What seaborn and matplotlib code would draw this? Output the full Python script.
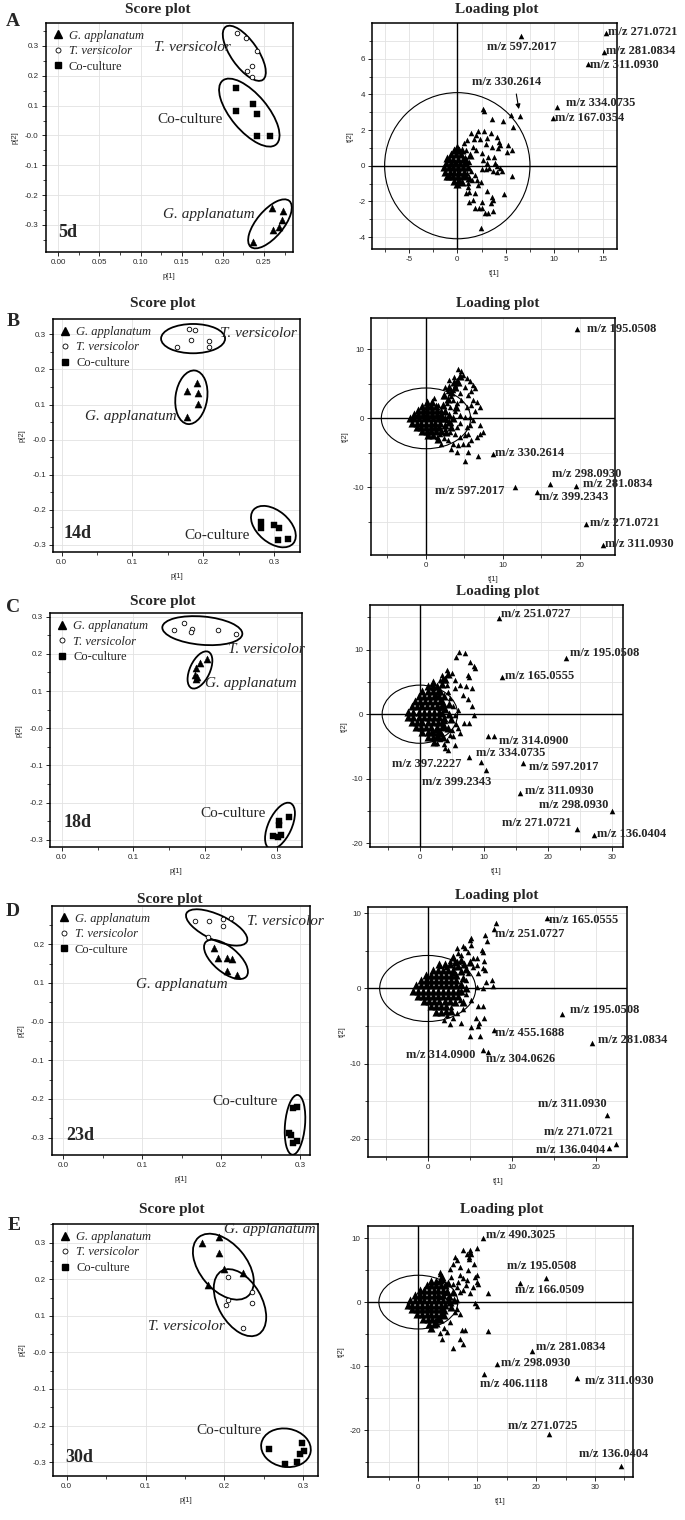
import matplotlib
matplotlib.use("Agg")
import matplotlib.pyplot as plt
import matplotlib.transforms as mtransforms
from matplotlib.patches import Ellipse
from matplotlib.ticker import MultipleLocator, FuncFormatter, AutoMinorLocator
from matplotlib.lines import Line2D
import pandas as pd
import seaborn as sns

# ---------------------------------------------------------------- data
GROUPS = ["G. applanatum", "T. versicolor", "Co-culture"]
DAYS = ["5d", "14d", "18d", "23d", "30d"]
PANEL_LETTERS = ["A", "B", "C", "D", "E"]

# Score plots: p[1], p[2] per group
A_GA_P1 = [0.2593, 0.2727, 0.2715, 0.2678, 0.2605, 0.2370]
A_GA_P2 = [-0.244, -0.255, -0.283, -0.306, -0.317, -0.356]
A_TV_P1 = [0.2176, 0.2277, 0.2419, 0.2358, 0.2293, 0.2358]
A_TV_P2 = [0.3425, 0.3279, 0.2832, 0.2318, 0.2173, 0.1950]
A_CO_P1 = [0.2156, 0.2160, 0.2370, 0.2419, 0.2419, 0.2573]
A_CO_P2 = [0.158, 0.082, 0.1045, 0.072, -0.0006, -0.003]

B_GA_P1 = [0.1917, 0.1771, 0.1926, 0.1926, 0.1771]
B_GA_P2 = [0.1623, 0.1396, 0.1339, 0.1006, 0.0655]
B_TV_P1 = [0.1625, 0.1799, 0.1889, 0.1827, 0.2086, 0.2082]
B_TV_P2 = [0.2649, 0.3152, 0.3114, 0.2839, 0.2820, 0.2630]
B_CO_P1 = [0.2812, 0.2812, 0.2995, 0.3075, 0.3052, 0.3198]
B_CO_P2 = [-0.2336, -0.2525, -0.2430, -0.2516, -0.2858, -0.2839]

C_GA_P1 = [0.2033, 0.1930, 0.1874, 0.1860, 0.1874, 0.1893]
C_GA_P2 = [0.1863, 0.1746, 0.1630, 0.1433, 0.1316, 0.1388]
C_TV_P1 = [0.1567, 0.1707, 0.1819, 0.1809, 0.2177, 0.2433]
C_TV_P2 = [0.2651, 0.2821, 0.2660, 0.2579, 0.2651, 0.2534]
C_CO_P1 = [0.3033, 0.3037, 0.3167, 0.2953, 0.3060, 0.3014]
C_CO_P2 = [-0.2490, -0.2588, -0.2391, -0.2893, -0.2866, -0.2910]

D_GA_P1 = [0.1914, 0.1956, 0.2070, 0.2134, 0.2070, 0.2197]
D_GA_P2 = [0.1913, 0.1652, 0.1652, 0.1609, 0.1304, 0.1217]
D_TV_P1 = [0.1669, 0.1851, 0.2028, 0.2125, 0.2020, 0.1830]
D_TV_P2 = [0.2609, 0.2591, 0.2652, 0.2678, 0.2461, 0.2183]
D_CO_P1 = [0.2915, 0.2966, 0.2856, 0.2886, 0.2907, 0.2958]
D_CO_P2 = [-0.2235, -0.2209, -0.2887, -0.2939, -0.3148, -0.3078]

E_GA_P1 = [0.1720, 0.1935, 0.1935, 0.1994, 0.2240, 0.1796]
E_GA_P2 = [0.3000, 0.3164, 0.2726, 0.2280, 0.2161, 0.1842]
E_TV_P1 = [0.2041, 0.2041, 0.2015, 0.2353, 0.2349, 0.2231]
E_TV_P2 = [0.2070, 0.1432, 0.1295, 0.1660, 0.1340, 0.0675]
E_CO_P1 = [0.2565, 0.2763, 0.2915, 0.2979, 0.2958, 0.3008]
E_CO_P2 = [-0.2644, -0.3064, -0.2991, -0.2489, -0.2781, -0.2690]

# Loading plots: dense core around origin, spread of variables, labelled variables
A_CORE = [(-0.3, 0.9), (0.2, 0.9), (-0.6, 0.65), (-0.1, 0.65), (0.4, 0.65),
          (-0.9, 0.4), (-0.4, 0.4), (0.1, 0.4), (0.6, 0.4),
          (-1.2, 0.15), (-0.7, 0.15), (-0.2, 0.15), (0.3, 0.15), (0.8, 0.15),
          (-1.4, -0.1), (-0.9, -0.1), (-0.4, -0.1), (0.1, -0.1), (0.6, -0.1),
          (-1.3, -0.35), (-0.8, -0.35), (-0.3, -0.35), (0.2, -0.35), (0.7, -0.35),
          (-0.9, -0.6), (-0.4, -0.6), (0.1, -0.6), (0.6, -0.6), (-0.3, -0.85), (0.2, -0.85),
          (0.9, 0.3), (1.1, -0.1), (0.8, -0.5), (0.5, 0.9), (0.5, -0.9), (1.3, 0.6),
          (1.2, -0.7), (-1.1, -0.55), (-1.1, 0.45), (0.0, 1.05), (0.0, -1.0)]
A_FAN = [(2.61, 3.16), (2.75, 3.09), (3.58, 2.60), (5.50, 2.85), (4.68, 2.51), (5.78, 2.19),
         (3.44, 1.85), (2.75, 1.97), (2.17, 1.97), (1.93, 1.72), (1.72, 1.48), (2.34, 1.48),
         (3.03, 1.57), (4.06, 1.63), (4.33, 1.35), (4.40, 1.16), (5.26, 1.16), (5.68, 0.88),
         (5.09, 0.79), (4.23, 0.97), (3.54, 1.07), (2.96, 1.22), (1.65, 1.07), (1.93, 0.88),
         (0.69, 1.25), (0.96, 1.44), (1.38, 1.85), (2.51, 0.73), (3.20, 0.51), (3.78, 0.51),
         (2.68, 0.32), (3.03, 0.17), (3.89, 0.17), (4.06, -0.02), (4.40, -0.15), (5.61, -0.56),
         (4.58, -0.28), (4.06, -0.34), (3.72, -0.28), (3.30, -0.15), (2.92, -0.21), (2.51, -0.21),
         (1.82, -0.52), (1.48, -0.81), (2.00, -0.81), (2.41, -0.90), (2.17, -1.09), (1.10, -1.18),
         (1.24, -1.46), (1.82, -1.52), (3.03, -1.40), (3.54, -1.74), (3.65, -1.93), (4.82, -1.61),
         (3.44, -2.12), (2.51, -2.02), (1.65, -1.93), (1.24, -2.02), (1.82, -2.40), (2.27, -2.40),
         (2.58, -2.40), (2.89, -2.68), (3.20, -2.64), (3.65, -2.53), (2.44, -3.52), (1.14, -0.96),
         (0.89, -1.55), (0.80, 0.50), (1.00, -0.40), (0.90, 0.90), (1.20, 0.20), (1.40, -0.30)]
A_MZ = ["271.0721", "281.0834", "311.0930", "597.2017", "334.0735", "167.0354", "330.2614"]
A_MZ_T1 = [15.31, 15.14, 13.52, 6.57, 10.32, 9.91, 6.47]
A_MZ_T2 = [7.43, 6.40, 5.71, 7.28, 3.28, 2.68, 2.79]

B_CORE = [(0.2, 2.4), (0.8, 2.4),
          (-0.5, 1.8), (0.1, 1.8), (0.7, 1.8), (1.3, 1.8),
          (-1.0, 1.2), (-0.4, 1.2), (0.2, 1.2), (0.8, 1.2), (1.4, 1.2),
          (-1.6, 0.6), (-1.0, 0.6), (-0.4, 0.6), (0.2, 0.6), (0.8, 0.6), (1.4, 0.6), (1.9, 0.6),
          (-2.1, 0.0), (-1.5, 0.0), (-0.9, 0.0), (-0.3, 0.0), (0.3, 0.0), (0.9, 0.0), (1.5, 0.0), (2.0, 0.0),
          (-1.8, -0.6), (-1.2, -0.6), (-0.6, -0.6), (0.0, -0.6), (0.6, -0.6), (1.2, -0.6), (1.8, -0.6),
          (-1.2, -1.2), (-0.6, -1.2), (0.0, -1.2), (0.6, -1.2), (1.2, -1.2), (1.7, -1.2),
          (-0.5, -1.8), (0.1, -1.8), (0.7, -1.8), (1.3, -1.8), (0.3, -2.4), (0.9, -2.4),
          (2.5, 1.0), (2.5, 0.0), (2.5, -1.0), (3.0, 0.5), (3.0, -0.5), (3.5, 0.0), (2.2, 2.0),
          (2.8, 2.8), (3.2, 3.8), (3.8, 4.5), (4.2, 5.2), (3.0, 4.5), (2.6, -2.0), (3.2, -1.3),
          (2.0, -1.8), (1.6, -3.0), (2.4, 3.4), (3.6, 5.2), (4.4, 6.2), (3.9, 1.6)]
B_FAN = [(4.2, 7.1), (4.6, 6.8), (4.8, 6.3), (5.3, 5.9), (5.7, 5.4), (6.1, 4.9), (6.4, 4.4), (5.9, 3.9),
         (4.0, 5.6), (3.8, 4.9), (3.5, 4.1), (2.9, 3.9), (2.3, 3.2), (3.3, 3.2), (4.4, 3.7), (5.1, 4.6),
         (5.5, 3.4), (6.1, 2.7), (6.6, 2.4), (5.9, 2.0), (5.3, 1.7), (4.6, 2.7), (4.0, 2.2), (3.5, 2.7),
         (3.1, 1.7), (3.8, 1.0), (4.4, 0.5), (5.1, 0.2), (5.7, 0.2), (6.1, -0.2), (5.7, -1.0), (5.3, -1.2),
         (4.4, -0.7), (4.0, -1.2), (3.3, -0.7), (2.7, -0.2), (2.5, -1.5), (3.1, -2.0), (3.8, -2.2),
         (4.4, -2.7), (5.1, -2.4), (5.5, -2.2), (5.9, -3.2), (5.5, -3.7), (4.8, -3.7), (4.2, -3.9),
         (3.5, -3.7), (2.9, -3.2), (2.3, -2.9), (1.8, -2.2), (1.4, -2.7), (2.0, -3.7), (3.3, -4.4),
         (4.0, -4.9), (5.5, -4.9), (6.8, -5.4), (5.1, -6.2), (7.4, -2.0), (7.0, -2.2), (6.6, -2.7),
         (7.0, -1.0), (6.4, 1.0), (7.0, 1.7), (2.7, 2.2), (2.0, 1.2), (1.5, 2.0), (1.0, 3.0),
         (2.5, 4.5), (3.0, 5.5), (3.6, 6.0)]
B_MZ = ["195.0508", "330.2614", "298.0930", "281.0834", "597.2017", "399.2343", "271.0721", "311.0930"]
B_MZ_T1 = [19.57, 8.74, 16.10, 19.48, 11.52, 14.37, 20.74, 23.03]
B_MZ_T2 = [13.02, -5.12, -9.51, -9.76, -9.90, -10.73, -15.27, -18.29]

C_CORE = [(1.2, 4.4), (2.0, 4.4),
          (0.4, 3.6), (1.2, 3.6), (2.0, 3.6), (2.8, 3.6),
          (-0.2, 2.8), (0.6, 2.8), (1.4, 2.8), (2.2, 2.8), (3.0, 2.8),
          (-0.8, 2.0), (0.0, 2.0), (0.8, 2.0), (1.6, 2.0), (2.4, 2.0), (3.2, 2.0),
          (-1.3, 1.2), (-0.5, 1.2), (0.3, 1.2), (1.1, 1.2), (1.9, 1.2), (2.7, 1.2), (3.4, 1.2),
          (-1.8, 0.4), (-1.0, 0.4), (-0.2, 0.4), (0.6, 0.4), (1.4, 0.4), (2.2, 0.4), (3.0, 0.4),
          (-1.8, -0.4), (-1.0, -0.4), (-0.2, -0.4), (0.6, -0.4), (1.4, -0.4), (2.2, -0.4), (3.0, -0.4),
          (-1.2, -1.2), (-0.4, -1.2), (0.4, -1.2), (1.2, -1.2), (2.0, -1.2), (2.8, -1.2), (3.5, -1.2),
          (-0.6, -2.0), (0.2, -2.0), (1.0, -2.0), (1.8, -2.0), (2.6, -2.0), (3.4, -2.0),
          (0.4, -2.8), (1.2, -2.8), (2.0, -2.8), (2.8, -2.8), (1.2, -3.6), (2.0, -3.6), (2.8, -3.6),
          (2.2, -4.3),
          (3.5, 0.2), (3.8, -0.6), (4.0, 0.8), (3.6, 1.8), (3.8, 2.8), (3.2, 3.6), (2.6, 4.4),
          (3.4, 4.6), (4.0, 5.5), (4.4, 6.2), (3.6, 5.4), (3.8, -1.8), (3.2, -2.8), (3.6, -3.6),
          (2.6, -3.4), (4.4, -2.2), (4.5, 0.0), (4.6, 1.6), (2.0, 5.0), (4.8, -0.8)]
C_FAN = [(6.1, 9.7), (7.0, 9.4), (5.7, 8.8), (7.8, 8.1), (8.4, 7.4), (8.6, 7.1), (7.5, 6.1), (7.7, 5.7),
         (7.2, 4.4), (8.1, 4.0), (6.8, 3.0), (7.5, 2.3), (8.1, 1.3), (8.4, -0.1), (7.6, -1.4), (6.9, -1.4),
         (5.7, -1.5), (5.5, -0.1), (6.0, 0.7), (5.2, 1.2), (4.7, 2.5), (4.4, 3.5), (4.2, 4.5), (5.5, 4.0),
         (6.3, 4.5), (5.5, 5.3), (5.0, 6.3), (4.2, 6.8), (3.4, 6.1), (3.1, 5.3), (5.2, -3.4), (4.7, -3.2),
         (5.5, -4.7), (4.3, -4.0), (3.7, -4.6), (3.1, -3.9), (2.7, -4.4), (3.9, -5.2), (4.4, -5.5),
         (6.3, -2.9), (6.0, -2.2), (5.0, -2.4), (2.5, 3.0), (3.5, 2.0), (2.0, 4.0), (3.0, 1.0),
         (4.0, -1.0), (2.5, -2.5), (3.5, -3.0), (1.8, -2.8), (10.7, -3.44)]
C_MZ = ["251.0727", "195.0508", "165.0555", "314.0900", "334.0735", "397.2227",
        "399.2343", "597.2017", "311.0930", "298.0930", "271.0721", "136.0404"]
C_MZ_T1 = [12.31, 22.80, 12.83, 11.63, 7.72, 9.49, 10.28, 16.07, 15.65, 30.00, 24.62, 27.23]
C_MZ_T2 = [14.96, 8.64, 5.81, -3.44, -6.63, -7.40, -8.59, -7.56, -12.19, -15.01, -17.84, -18.77]

D_CORE = [(1.4, 3.2), (2.0, 3.2),
          (0.6, 2.5), (1.2, 2.5), (1.8, 2.5), (2.4, 2.5), (3.0, 2.5),
          (-0.2, 1.8), (0.4, 1.8), (1.0, 1.8), (1.6, 1.8), (2.2, 1.8), (2.8, 1.8), (3.4, 1.8),
          (-0.8, 1.1), (-0.2, 1.1), (0.4, 1.1), (1.0, 1.1), (1.6, 1.1), (2.2, 1.1), (2.8, 1.1), (3.4, 1.1),
          (-1.4, 0.4), (-0.8, 0.4), (-0.2, 0.4), (0.4, 0.4), (1.0, 0.4), (1.6, 0.4), (2.2, 0.4), (2.8, 0.4), (3.4, 0.4),
          (-1.8, -0.3), (-1.2, -0.3), (-0.6, -0.3), (0.0, -0.3), (0.6, -0.3), (1.2, -0.3), (1.8, -0.3),
          (2.4, -0.3), (3.0, -0.3), (3.6, -0.3),
          (-1.2, -1.0), (-0.6, -1.0), (0.0, -1.0), (0.6, -1.0), (1.2, -1.0), (1.8, -1.0), (2.4, -1.0), (3.0, -1.0),
          (-0.4, -1.7), (0.2, -1.7), (0.8, -1.7), (1.4, -1.7), (2.0, -1.7), (2.6, -1.7),
          (0.4, -2.4), (1.0, -2.4), (1.6, -2.4), (2.2, -2.4), (1.0, -3.1), (1.6, -3.1),
          (4.0, 0.6), (4.0, -0.4), (4.2, 1.4), (3.9, 2.3), (3.6, 3.0), (2.6, 3.2), (3.2, 3.5),
          (4.3, 3.2), (4.6, 2.6), (3.6, -1.0), (3.2, -1.8), (2.8, -3.0), (2.2, -3.0), (4.5, 0.0),
          (4.2, -1.8), (3.0, 4.2), (4.0, 3.8), (5.0, 3.5)]
D_FAN = [(4.2, 5.6), (4.4, 5.4), (5.2, 5.8), (4.8, 4.8), (5.4, 4.0), (6.4, 5.1), (6.6, 4.9), (6.7, 3.7),
         (7.1, 6.3), (6.8, 7.1), (5.2, 6.7), (5.0, 6.5), (3.5, 5.4), (3.6, 4.7), (4.0, 4.5), (6.6, 2.7),
         (6.8, 2.5), (6.0, 2.0), (6.9, 0.9), (7.6, 1.1), (7.8, 0.3), (5.9, 3.1), (5.4, 2.9), (4.8, 2.0),
         (4.5, 1.1), (5.8, 4.0), (3.5, 3.7), (3.1, 2.9), (2.7, 3.6), (6.0, -2.4), (6.6, -2.4), (5.7, -4.0),
         (6.1, -4.6), (6.7, -3.9), (5.2, -5.1), (5.0, -6.3), (6.2, -6.3), (6.0, -5.0), (4.0, -4.6),
         (3.0, -4.0), (2.6, -4.7), (2.3, -3.6), (1.9, -4.2), (3.5, -3.3), (6.6, 0.1), (5.8, 0.2),
         (4.6, -0.7), (5.2, -1.6), (4.2, -2.7), (3.0, 2.0), (2.2, 2.8), (1.5, 3.0), (3.8, -1.5),
         (2.8, -2.5), (8.12, 8.71)]
D_MZ = ["165.0555", "251.0727", "195.0508", "281.0834", "455.1688",
        "314.0900", "304.0626", "311.0930", "271.0721", "136.0404"]
D_MZ_T1 = [14.14, 7.92, 15.92, 19.49, 7.92, 6.61, 7.21, 21.27, 22.38, 21.47]
D_MZ_T2 = [9.38, 7.90, -3.35, -7.28, -5.58, -8.26, -8.48, -16.83, -20.76, -21.20]

E_CORE = [(1.4, 2.6), (2.2, 2.6), (3.0, 2.6),
          (0.2, 1.85), (1.0, 1.85), (1.8, 1.85), (2.6, 1.85), (3.4, 1.85), (4.2, 1.85),
          (-0.6, 1.1), (0.2, 1.1), (1.0, 1.1), (1.8, 1.1), (2.6, 1.1), (3.4, 1.1), (4.2, 1.1),
          (-1.4, 0.35), (-0.6, 0.35), (0.2, 0.35), (1.0, 0.35), (1.8, 0.35), (2.6, 0.35), (3.4, 0.35),
          (4.2, 0.35), (5.0, 0.35),
          (-1.8, -0.4), (-1.0, -0.4), (-0.2, -0.4), (0.6, -0.4), (1.4, -0.4), (2.2, -0.4), (3.0, -0.4),
          (3.8, -0.4), (4.6, -0.4),
          (-1.0, -1.15), (-0.2, -1.15), (0.6, -1.15), (1.4, -1.15), (2.2, -1.15), (3.0, -1.15), (3.8, -1.15),
          (-0.2, -1.9), (0.6, -1.9), (1.4, -1.9), (2.2, -1.9), (3.0, -1.9), (3.8, -1.9),
          (0.8, -2.65), (1.6, -2.65), (2.4, -2.65), (3.2, -2.65), (1.8, -3.4), (2.6, -3.4),
          (5.4, 0.0), (5.2, 1.0), (4.8, 1.8), (4.6, 2.6), (3.8, 2.6), (3.0, 3.3), (2.2, 3.3),
          (3.6, 3.4), (4.4, -1.2), (4.4, -2.0), (3.6, -2.6), (3.0, -3.3), (2.2, -4.0), (5.6, -0.8),
          (5.8, 1.6), (4.0, 4.0), (5.0, 3.0), (6.0, 0.4)]
E_FAN = [(3.7, 4.7), (3.6, 4.4), (4.2, 3.4), (4.7, 2.9), (5.5, 4.0), (6.2, 7.1), (6.5, 6.6), (7.1, 5.5),
         (5.9, 6.0), (5.4, 5.1), (5.9, 2.9), (6.6, 2.3), (7.6, 1.9), (8.1, 2.7), (7.6, 3.7), (8.3, 3.4),
         (7.6, 8.1), (8.2, 7.6), (8.6, 7.1), (8.7, 8.1), (8.8, 7.9), (8.9, 7.5), (8.6, 6.7), (9.5, 6.0),
         (9.9, 8.4), (10.0, 4.2), (9.9, 3.2), (9.6, 4.0), (10.2, 2.9), (8.5, 5.0), (7.1, 4.2), (6.8, 3.2),
         (11.9, 1.4), (7.1, 1.6), (6.5, 0.3), (6.2, -1.5), (7.1, -1.8), (6.5, -1.0), (9.6, -0.2),
         (10.0, -0.6), (11.8, -4.5), (7.4, -4.3), (7.9, -4.3), (7.1, -5.8), (7.5, -6.6), (5.8, -7.2),
         (3.6, -4.8), (4.1, -5.7), (4.4, -4.1), (4.9, -4.6), (2.8, -2.8), (5.4, -3.1), (4.5, 1.4),
         (3.7, 0.8), (5.4, 0.8), (8.8, 1.4), (9.3, 2.4)]
E_MZ = ["490.3025", "195.0508", "166.0509", "281.0834", "298.0930",
        "406.1118", "311.0930", "271.0725", "136.0404"]
E_MZ_T1 = [11.04, 21.67, 17.32, 19.35, 13.30, 11.15, 27.00, 22.24, 34.35]
E_MZ_T2 = [10.05, 3.80, 2.92, -7.60, -9.69, -11.25, -11.93, -20.68, -25.63]

# ---------------------------------------------------------------- layout / style
W, H = 685, 1520
SERIF = ["Liberation Serif", "DejaVu Serif"]

sns.set_style("ticks")
plt.rcParams["font.family"] = ["Liberation Sans", "DejaVu Sans"]
plt.rcParams["axes.unicode_minus"] = False

fig = plt.figure(figsize=(W / 100, H / 100), dpi=100)
fig.patch.set_facecolor("white")


def px_axes(l, t, r, b):
    return fig.add_axes([l / W, 1 - b / H, (r - l) / W, (b - t) / H])


def fig_text(x, y, s, **kw):
    fig.text(x / W, 1 - y / H, s, **kw)


def px_ellipse(ax, cx, cy, w, h, ang):
    tr = mtransforms.IdentityTransform() + mtransforms.ScaledTranslation(cx, cy, ax.transData)
    e = Ellipse((0, 0), w, h, angle=ang, fill=False, edgecolor="black", lw=1.3, transform=tr)
    ax.add_artist(e)


def style_axes(ax):
    for sp in ax.spines.values():
        sp.set_color("black")
        sp.set_linewidth(1.1)
        sp.set_visible(True)
    ax.tick_params(which="major", length=3, width=0.7, labelsize=5.8, labelcolor="#2a2a2a", pad=2)
    ax.tick_params(which="minor", length=2, width=0.6)
    ax.set_facecolor("white")


score_sets = [
    [(A_GA_P1, A_GA_P2), (A_TV_P1, A_TV_P2), (A_CO_P1, A_CO_P2)],
    [(B_GA_P1, B_GA_P2), (B_TV_P1, B_TV_P2), (B_CO_P1, B_CO_P2)],
    [(C_GA_P1, C_GA_P2), (C_TV_P1, C_TV_P2), (C_CO_P1, C_CO_P2)],
    [(D_GA_P1, D_GA_P2), (D_TV_P1, D_TV_P2), (D_CO_P1, D_CO_P2)],
    [(E_GA_P1, E_GA_P2), (E_TV_P1, E_TV_P2), (E_CO_P1, E_CO_P2)],
]
load_sets = [
    (A_CORE, A_FAN, A_MZ, A_MZ_T1, A_MZ_T2),
    (B_CORE, B_FAN, B_MZ, B_MZ_T1, B_MZ_T2),
    (C_CORE, C_FAN, C_MZ, C_MZ_T1, C_MZ_T2),
    (D_CORE, D_FAN, D_MZ, D_MZ_T1, D_MZ_T2),
    (E_CORE, E_FAN, E_MZ, E_MZ_T1, E_MZ_T2),
]

# axes rectangles (pixels: left, top, right, bottom)
SCORE_RECT = [(45.7, 22.7, 293, 251.7), (53.3, 319, 300, 552.3), (50, 613.3, 301.7, 847.3),
              (51.7, 906, 310, 1155), (53.3, 1224, 318.3, 1476)]
LOAD_RECT = [(372.3, 23.3, 616.7, 249.3), (371, 318.3, 615.3, 555), (370, 605, 623.3, 847.3),
             (368.3, 906.7, 627.3, 1157.3), (367.7, 1226, 632.7, 1476.7)]
SCORE_LIM = [((-0.0153, 0.2853), (-0.39, 0.378)), ((-0.0119, 0.3367), (-0.321, 0.3436)),
             ((-0.0163, 0.335), (-0.32, 0.309)), ((-0.0147, 0.3127), (-0.345, 0.299)),
             ((-0.017, 0.319), (-0.338, 0.351))]
SCORE_XSTEP = [0.05, 0.1, 0.1, 0.1, 0.1]
LOAD_LIM = [((-8.77, 16.45), (-4.69, 7.99)), ((-7.14, 24.6), (-19.8, 14.5)),
            ((-7.8, 31.8), (-20.6, 16.9)), ((-7.05, 23.7), (-22.5, 10.9)),
            ((-8.6, 36.4), (-27.3, 11.9))]
LOAD_TICKS = [(5, 2.5, 2, 1), (10, 5, 10, 5), (10, 5, 10, 5), (10, 5, 10, 5), (10, 5, 10, 5)]
LOAD_CIRCLE = [(7.5, 4.1), (5.8, 4.4), (5.9, 4.5), (5.7, 4.4), (6.7, 4.2)]

# ellipses around groups: centre (data), width px, height px, angle
SCORE_ELL = [
    [(0.2573, -0.2966, 60, 26.7, 50), (0.2261, 0.2754, 64.7, 26.7, -55), (0.2322, 0.0765, 83.3, 36.7, -50)],
    [(0.1832, 0.1206, 31.7, 54, -8), (0.1856, 0.2877, 64, 29.3, 0), (0.2991, -0.2478, 52, 32, -40)],
    [(0.193, 0.1567, 40, 20, 65), (0.1963, 0.2624, 80.3, 28.3, -5), (0.3047, -0.2624, 50, 23.3, 65)],
    [(0.2062, 0.1609, 53.3, 25.3, -40), (0.1944, 0.2435, 66.7, 25.3, -25), (0.2937, -0.267, 60, 20, 85)],
    [(0.1986, 0.2343, 76.7, 46.7, -50), (0.2197, 0.1359, 73.3, 43.3, -60), (0.278, -0.2608, 50, 38.3, -10)],
]
# group name positions (data coords, left-centre)
SCORE_TXT = [
    [(0.1276, -0.264), (0.116, 0.294), (0.1207, 0.054)],
    [(0.033, 0.0655), (0.2237, 0.3029), (0.1733, -0.2734)],
    [(0.200, 0.1209), (0.2326, 0.2104), (0.193, -0.2284)],
    [(0.0921, 0.0957), (0.2324, 0.2591), (0.1889, -0.2078)],
    [(0.1994, 0.3346), (0.1027, 0.0702), (0.1648, -0.2125)],
]
DAY_POS = [(0.0, -0.325), (0.0024, -0.267), (0.0023, -0.2534), (0.0042, -0.2948), (-0.002, -0.287)]

# label offsets in pixels (dx, dy, ha) for each labelled variable
LOAD_OFF = [
    [(2, 1, "left"), (2, 1, "left"), (2, -1, "left"), (-34, -11, "left"), (9, 4, "left"),
     (2, 0, "left"), None],
    [(10, 0, "left"), (2, 1, "left"), (2, 10, "left"), (7, 2, "left"), (-10, -4, "right"),
     (2, -5, "left"), (4, 1, "left"), (2, 1, "left")],
    [(2, 4, "left"), (4, 5, "left"), (3, 1, "left"), (5, -5, "left"), (7, 4, "left"),
     (-19, -2, "right"), (-64, -12, "left"), (6, -4, "left"), (5, 2, "left"), (-3, 6, "right"),
     (-6, 6, "right"), (3, 1, "left")],
    [(2, -2, "left"), (1, -5, "left"), (8, 4, "left"), (6, 3, "left"), (1, -3, "left"),
     (-8, -5, "right"), (-2, -7, "left"), (0, 11, "right"), (-3, 12, "right"), (-3, -2, "right")],
    [(3, 3, "left"), (-39, 12, "left"), (-5, -7, "left"), (4, 4, "left"), (4, 1, "left"),
     (-4, -10, "left"), (8, -3, "left"), (-41, 8, "left"), (-42, 12, "left")],
]

SCORE_TITLE = [(158, 9), (163, 303), (163, 601), (170, 899), (172, 1210)]
LOAD_TITLE = [(497, 9), (498, 303), (498, 591), (497, 895), (502, 1209)]
LETTER_POS = [(13, 22), (13, 322), (13, 608), (13, 912), (14, 1226)]

MARKERS = {"G. applanatum": "^", "T. versicolor": "o", "Co-culture": "s"}
SIZES = {"G. applanatum": 26, "T. versicolor": 11, "Co-culture": 17}


def tick_fmt(dec, zero_label):
    def f(v, _):
        if abs(v) < 1e-9:
            return zero_label
        return f"{v:.{dec}f}"
    return f


for i in range(5):
    # ---------------- score plot
    ax = px_axes(*SCORE_RECT[i])
    style_axes(ax)
    (xl, yl) = SCORE_LIM[i]
    for g, (p1, p2) in zip(GROUPS, score_sets[i]):
        df = pd.DataFrame({"p1": p1, "p2": p2, "group": g})
        if g == "T. versicolor":
            sns.scatterplot(data=df, x="p1", y="p2", marker="o", s=SIZES[g], color="white",
                            edgecolor="black", linewidth=0.6, ax=ax, zorder=3)
        else:
            sns.scatterplot(data=df, x="p1", y="p2", marker=MARKERS[g], s=SIZES[g], color="black",
                            edgecolor="black", linewidth=0.3, ax=ax, zorder=3)
    ax.set_xlim(*xl)
    ax.set_ylim(*yl)
    ax.xaxis.set_major_locator(MultipleLocator(SCORE_XSTEP[i]))
    ax.xaxis.set_minor_locator(AutoMinorLocator(2))
    ax.yaxis.set_major_locator(MultipleLocator(0.1))
    ax.yaxis.set_minor_locator(AutoMinorLocator(2))
    if SCORE_XSTEP[i] < 0.1:
        ax.xaxis.set_major_formatter(FuncFormatter(tick_fmt(2, "0.00")))
    else:
        ax.xaxis.set_major_formatter(FuncFormatter(tick_fmt(1, "0.0")))
    ax.yaxis.set_major_formatter(FuncFormatter(tick_fmt(1, "-0.0")))
    ax.grid(True, which="major", color="#e2e2e2", lw=0.6)
    ax.set_axisbelow(True)
    ax.set_xlabel("p[1]", fontsize=5.5, labelpad=5)
    ax.set_ylabel("p[2]", fontsize=5.5, labelpad=5)
    for (cx, cy, w, h, a) in SCORE_ELL[i]:
        px_ellipse(ax, cx, cy, w, h, a)
    for g, (tx, ty) in zip(GROUPS, SCORE_TXT[i]):
        ax.text(tx, ty, g, family=SERIF, fontsize=11, va="center", ha="left",
                style="normal" if g == "Co-culture" else "italic", zorder=4)
    ax.text(DAY_POS[i][0], DAY_POS[i][1], DAYS[i], family=SERIF, fontsize=13,
            fontweight="bold", va="center", ha="left")
    handles = []
    for g in GROUPS:
        if g == "T. versicolor":
            handles.append(Line2D([], [], ls="none", marker="o", ms=3.6, mfc="white", mec="black", mew=0.6))
        else:
            handles.append(Line2D([], [], ls="none", marker=MARKERS[g], ms=5.2 if g != "Co-culture" else 4.6,
                                  mfc="black", mec="black"))
    leg = ax.legend(handles, GROUPS, loc="upper left", frameon=False,
                    prop={"family": SERIF, "size": 9}, handlelength=0.8, handletextpad=0.5,
                    labelspacing=0.28, borderpad=0.3, borderaxespad=0.25)
    for t in leg.get_texts()[:2]:
        t.set_style("italic")

    # ---------------- loading plot
    ax2 = px_axes(*LOAD_RECT[i])
    style_axes(ax2)
    core, fan, mz, t1, t2 = load_sets[i]
    dcore = pd.DataFrame(core, columns=["t1", "t2"])
    dfan = pd.DataFrame(fan, columns=["t1", "t2"])
    dlab = pd.DataFrame({"t1": t1, "t2": t2, "mz": mz})
    sns.scatterplot(data=dcore, x="t1", y="t2", marker="^", s=34, color="black",
                    linewidth=0, ax=ax2, zorder=3)
    for d in (dfan, dlab):
        sns.scatterplot(data=d, x="t1", y="t2", marker="^", s=16, color="black",
                        linewidth=0, ax=ax2, zorder=3)
    (xl, yl) = LOAD_LIM[i]
    ax2.set_xlim(*xl)
    ax2.set_ylim(*yl)
    xm, xn, ym, yn = LOAD_TICKS[i]
    ax2.xaxis.set_major_locator(MultipleLocator(xm))
    ax2.xaxis.set_minor_locator(MultipleLocator(xn))
    ax2.yaxis.set_major_locator(MultipleLocator(ym))
    ax2.yaxis.set_minor_locator(MultipleLocator(yn))
    ax2.grid(True, which="both", color="#e2e2e2", lw=0.6)
    ax2.set_axisbelow(True)
    ax2.axhline(0, color="black", lw=1.0, zorder=2)
    ax2.axvline(0, color="black", lw=1.0, zorder=2)
    ca, cb = LOAD_CIRCLE[i]
    ax2.add_patch(Ellipse((0, 0), 2 * ca, 2 * cb, fill=False, edgecolor="black", lw=0.8, zorder=2))
    ax2.set_xlim(*xl)
    ax2.set_ylim(*yl)
    ax2.set_xlabel("t[1]", fontsize=5.5, labelpad=5)
    ax2.set_ylabel("t[2]", fontsize=5.5, labelpad=3)
    for k, row in dlab.iterrows():
        off = LOAD_OFF[i][k]
        label = "m/z " + row["mz"]
        if off is None:
            ax2.annotate(label, xy=(row["t1"], row["t2"]), xytext=(-13, 34), textcoords="offset pixels",
                         ha="center", va="center", family=SERIF, fontsize=9, fontweight="bold",
                         arrowprops=dict(arrowstyle="-|>", color="black", lw=0.8, mutation_scale=7,
                                         shrinkA=2, shrinkB=5, relpos=(0.62, 0.0)))
        else:
            dx, dy, ha = off
            ax2.annotate(label, xy=(row["t1"], row["t2"]), xytext=(dx, dy), textcoords="offset pixels",
                         ha=ha, va="center", family=SERIF, fontsize=9, fontweight="bold",
                         annotation_clip=False)

    # titles and panel letters
    fig_text(*SCORE_TITLE[i], "Score plot", family=SERIF, fontsize=11, fontweight="bold",
             ha="center", va="center")
    fig_text(*LOAD_TITLE[i], "Loading plot", family=SERIF, fontsize=11, fontweight="bold",
             ha="center", va="center")
    fig_text(*LETTER_POS[i], PANEL_LETTERS[i], family=SERIF, fontsize=14, fontweight="bold",
             ha="center", va="center")

fig.savefig("out.png", dpi=100, facecolor="white")
